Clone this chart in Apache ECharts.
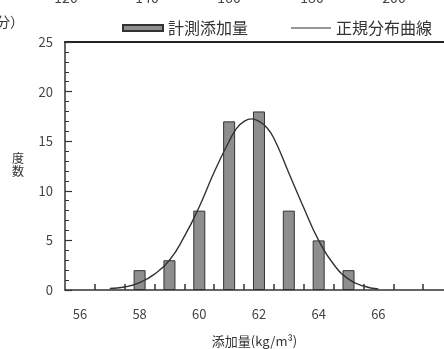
<!DOCTYPE html>
<html>
<head>
<meta charset="utf-8">
<script src="https://cdn.jsdelivr.net/npm/echarts@6/dist/echarts.min.js"></script>
<style>html,body{margin:0;padding:0;background:#fff;}#c{width:444px;height:349px;}</style>
</head>
<body>
<div id="c"></div>
<script>
// Histogram data (bin centre, frequency)
var binCenters = [58, 59, 60, 61, 62, 63, 64, 65];
var frequencies = [2, 3, 8, 17, 18, 8, 5, 2];
// Fitted normal curve
var curveX = [57, 57.5, 58, 58.5, 59, 59.5, 60, 60.5, 61, 61.25, 61.5, 61.75, 62, 62.25, 62.5, 63, 63.5, 64, 64.5, 65, 65.5, 66];
var curveY = [0.15, 0.3, 0.75, 1.6, 3.0, 5.4, 8.4, 11.9, 15.0, 16.3, 17.0, 17.25, 17.0, 16.4, 15.3, 11.8, 8.3, 5.0, 2.6, 1.1, 0.4, 0.1];
var xLabels = [56, 58, 60, 62, 64, 66];
var xTicks = [56.5, 57.5, 58.5, 59.5, 60.5, 61.5, 62.5, 63.5, 64.5, 65.5, 66.5, 67.5];
var yTicks = [0, 5, 10, 15, 20, 25];
var xMin = 55.5, xMax = 68.2, yMax = 25;
var topCutLabels = ['120', '140', '160', '180', '200'];

var FONT = '"Noto Sans CJK JP", "Noto Sans", sans-serif';
var barData = binCenters.map(function (x, i) { return [x, frequencies[i]]; });
var lineData = curveX.map(function (x, i) { return [x, curveY[i]]; });

var topX = [66, 147, 229, 312, 394];
var graphics = topCutLabels.map(function (t, i) {
  return { type: 'text', x: topX[i], y: 5, style: { text: t, font: '14px ' + FONT, fill: '#444', align: 'center', verticalAlign: 'bottom' } };
});
graphics.push({ type: 'text', x: -4, y: 22, style: { text: '分）', font: '14px ' + FONT, fill: '#333', align: 'left', verticalAlign: 'middle' } });
graphics.push({ type: 'text', x: 18, y: 165, style: { text: '度\n数', font: '12px ' + FONT, lineHeight: 13, fill: '#333', align: 'center', verticalAlign: 'middle' } });

// thin horizontal stroke icon (bbox 0..40 x 0..6) for the line legend item
var lineIcon = 'path://M0,0L0.01,0L0,0.01Z M0,2.4L40,2.4L40,3.6L0,3.6Z M0,6L0.01,6L0,5.99Z';

var chart = echarts.init(document.getElementById('c'), null, { renderer: 'canvas' });
chart.setOption({
  animation: false,
  backgroundColor: '#ffffff',
  textStyle: { fontFamily: FONT },
  graphic: graphics,
  legend: {
    left: 117, top: 15,
    itemWidth: 40, itemHeight: 6, itemGap: 43,
    textStyle: { fontSize: 16, color: '#333', fontFamily: FONT },
    data: [
      { name: '計測添加量', icon: 'rect' },
      { name: '正規分布曲線', icon: lineIcon, itemStyle: { color: '#333', borderWidth: 0 } }
    ]
  },
  grid: {
    left: 65, top: 42, bottom: 59, right: 0,
    outerBoundsMode: 'none', containLabel: false,
    show: false
  },
  xAxis: [
    {
      type: 'value', min: xMin, max: xMax, position: 'bottom',
      name: '添加量(kg/m³)', nameLocation: 'middle', nameGap: 45,
      nameTextStyle: { fontSize: 13, color: '#333', fontFamily: FONT },
      axisLine: { show: true, onZero: false, lineStyle: { color: '#333', width: 1.5 } },
      axisTick: { show: true, inside: true, length: 6, customValues: xTicks, lineStyle: { color: '#333', width: 1.5 } },
      axisLabel: { show: true, customValues: xLabels, margin: 18, fontSize: 13, color: '#444', fontFamily: FONT },
      splitLine: { show: false }
    },
    {
      type: 'value', min: xMin, max: xMax, position: 'top',
      axisLine: { show: true, onZero: false, lineStyle: { color: '#222', width: 2 } },
      axisTick: { show: false }, axisLabel: { show: false }, splitLine: { show: false }
    }
  ],
  yAxis: {
    type: 'value', min: 0, max: yMax, interval: 5,
    axisLine: { show: true, onZero: false, lineStyle: { color: '#333', width: 1.5 } },
    axisTick: { show: true, inside: true, length: 7, lineStyle: { color: '#333', width: 1.2 } },
    minorTick: { show: true, splitNumber: 5, length: 4, lineStyle: { color: '#333', width: 1 } },
    axisLabel: {
      margin: 12, fontSize: 13, color: '#444', fontFamily: FONT,
      formatter: function (v) { return yTicks.indexOf(v) >= 0 ? String(v) : ''; }
    },
    splitLine: { show: false }
  },
  series: [
    {
      name: '計測添加量', type: 'bar', xAxisIndex: 0, data: barData, barWidth: 12,
      itemStyle: { color: '#8e8e8e', borderColor: '#333', borderWidth: 1 }
    },
    {
      name: '正規分布曲線', type: 'line', xAxisIndex: 0, data: lineData, smooth: 0.5,
      symbol: 'none', lineStyle: { color: '#333', width: 1.4 }, itemStyle: { color: '#333' }, z: 3
    }
  ]
});
</script>
</body>
</html>
